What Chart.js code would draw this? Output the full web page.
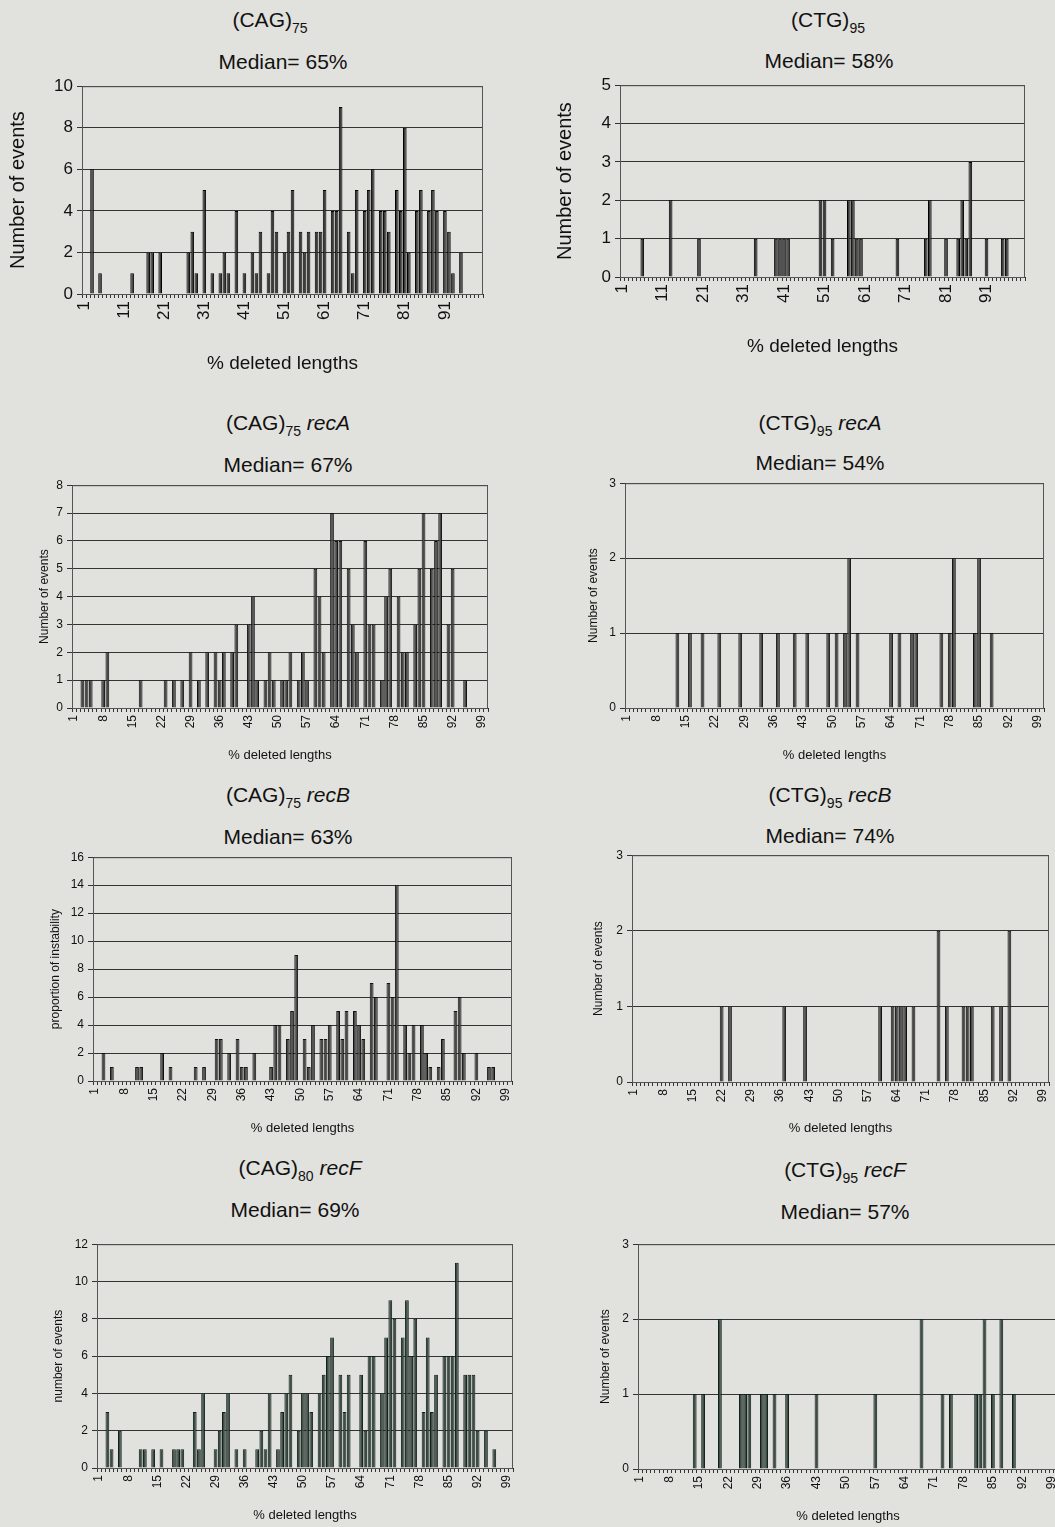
<!DOCTYPE html>
<html>
<head>
<meta charset="utf-8">
<script src="https://cdn.jsdelivr.net/npm/chart.js@4.4.0/dist/chart.umd.min.js"></script>
<style>
body { margin:0; width:1055px; height:1527px; overflow:hidden; background:#e1e1dd; position:relative; font-family:"Liberation Sans", Arial, sans-serif; color:#111; }
.box { position:absolute; }
.ttl { position:absolute; transform:translate(-50%,-50%); font-size:21px; white-space:nowrap; }
.ttl sub { font-size:14px; }
</style>
</head>
<body>
<div class="ttl" style="left:270px;top:22px">(CAG)<sub>75</sub></div>
<div class="ttl" style="left:283px;top:62px">Median= 65%</div>
<div class="ttl" style="left:828px;top:22px">(CTG)<sub>95</sub></div>
<div class="ttl" style="left:829px;top:61px">Median= 58%</div>
<div class="ttl" style="left:288px;top:425px">(CAG)<sub>75</sub> <i>recA</i></div>
<div class="ttl" style="left:288px;top:465px">Median= 67%</div>
<div class="ttl" style="left:820px;top:425px">(CTG)<sub>95</sub> <i>recA</i></div>
<div class="ttl" style="left:820px;top:463px">Median= 54%</div>
<div class="ttl" style="left:288px;top:797px">(CAG)<sub>75</sub> <i>recB</i></div>
<div class="ttl" style="left:288px;top:837px">Median= 63%</div>
<div class="ttl" style="left:830px;top:797px">(CTG)<sub>95</sub> <i>recB</i></div>
<div class="ttl" style="left:830px;top:836px">Median= 74%</div>
<div class="ttl" style="left:300px;top:1170px">(CAG)<sub>80</sub> <i>recF</i></div>
<div class="ttl" style="left:295px;top:1210px">Median= 69%</div>
<div class="ttl" style="left:845px;top:1172px">(CTG)<sub>95</sub> <i>recF</i></div>
<div class="ttl" style="left:845px;top:1212px">Median= 57%</div>

<script>
// % deleted length categories 1..100
const categories = [];
for (let c = 1; c <= 100; c++) categories.push(String(c));

// bins (category) with events, and the number of events at each
const cag75Bins = [3,5,13,17,18,20,27,28,29,31,33,35,36,37,39,41,43,44,45,47,48,49,51,52,53,55,56,57,59,60,61,63,64,65,67,68,69,71,72,73,75,76,77,79,80,81,82,84,85,87,88,89,91,92,93,95];
const cag75Counts = [6,1,1,2,2,2,2,3,1,5,1,1,2,1,4,1,2,1,3,1,4,3,2,3,5,3,2,3,3,3,5,4,4,9,3,1,5,4,5,6,4,4,3,5,4,8,2,4,5,4,5,4,4,3,1,2];

const ctg95Bins = [6,13,20,34,39,40,41,42,50,51,53,57,58,59,60,69,76,77,81,84,85,86,87,91,95,96];
const ctg95Counts = [1,2,1,1,1,1,1,1,2,2,1,2,2,1,1,1,1,2,1,1,2,1,3,1,1,1];

const cag75RecABins = [3,4,5,8,9,17,23,25,27,29,31,33,35,36,37,39,40,43,44,45,47,48,49,51,52,53,55,56,57,59,60,61,63,64,65,67,68,69,71,72,73,75,76,77,79,80,81,83,84,85,87,88,89,91,92,95];
const cag75RecACounts = [1,1,1,1,2,1,1,1,1,2,1,2,2,1,2,2,3,3,4,1,1,2,1,1,1,2,1,2,1,5,4,2,7,6,6,5,3,2,6,3,3,1,4,5,4,2,2,3,5,7,5,6,7,3,5,1];

const ctg95RecABins = [13,16,19,23,28,33,37,41,44,49,51,53,54,56,64,66,69,70,76,78,79,84,85,88];
const ctg95RecACounts = [1,1,1,1,1,1,1,1,1,1,1,1,2,1,1,1,1,1,1,1,2,1,2,1];

const cag75RecBBins = [3,5,11,12,17,19,25,27,30,31,33,35,36,37,39,43,44,45,47,48,49,51,52,53,55,56,57,59,60,61,63,64,65,67,68,71,72,73,75,76,77,79,80,81,83,84,87,88,89,92,95,96];
const cag75RecBCounts = [2,1,1,1,2,1,1,1,3,3,2,3,1,1,2,1,4,4,3,5,9,3,1,4,3,3,4,5,3,5,5,4,3,7,6,7,6,14,4,2,4,4,2,1,1,3,5,6,2,2,1,1];

const ctg95RecBBins = [22,24,37,42,60,63,64,65,66,68,74,76,80,81,82,87,89,91];
const ctg95RecBCounts = [1,1,1,1,1,1,1,1,1,1,2,1,1,1,1,1,1,2];

const cag80RecFBins = [3,4,6,11,12,14,16,19,20,21,24,25,26,29,30,31,32,34,36,39,40,41,42,44,45,46,47,49,50,51,52,54,55,56,57,59,60,61,64,65,66,67,69,70,71,72,74,75,76,77,79,80,81,82,84,85,86,87,89,90,91,92,94,96];
const cag80RecFCounts = [3,1,2,1,1,1,1,1,1,1,3,1,4,1,2,3,4,1,1,1,2,1,4,1,3,4,5,2,4,4,3,4,5,6,7,5,3,5,5,2,6,6,4,7,9,8,7,9,6,8,3,7,3,5,6,6,6,11,5,5,5,2,2,1];

const ctg95RecFBins = [14,16,20,25,26,27,30,31,33,36,43,57,68,73,75,81,82,83,85,87,90];
const ctg95RecFCounts = [1,1,2,1,1,1,1,1,1,1,1,1,2,1,1,1,1,2,1,2,1];

const frame = {
    id: 'frame',
    afterDraw(chart) {
        const a = chart.chartArea, ctx = chart.ctx;
        ctx.save();
        ctx.strokeStyle = '#555';
        ctx.lineWidth = 1;
        ctx.strokeRect(a.left + 0.5, a.top + 0.5, a.right - a.left - 1, a.bottom - a.top);
        ctx.restore();
    }
};

function drawPanel(bins, counts, p) {
    const values = categories.map((_, i) => {
        const k = bins.indexOf(i + 1);
        return k < 0 ? 0 : counts[k];
    });

    const lh = p.yTitleSize * 1.2;
    const divLeft = Math.round(p.yTitleX - lh / 2);
    const divTop = Math.round(p.t - 10);
    const divRight = Math.round(p.r + 12);
    const divBottom = Math.round(p.xTitleY + p.xTitleSize * 0.6);

    const box = document.createElement('div');
    box.className = 'box';
    box.style.left = divLeft + 'px';
    box.style.top = divTop + 'px';
    box.style.width = (divRight - divLeft) + 'px';
    box.style.height = (divBottom - divTop) + 'px';
    const canvas = document.createElement('canvas');
    box.appendChild(canvas);
    document.body.appendChild(box);

    new Chart(canvas.getContext('2d'), {
        type: 'bar',
        data: {
            labels: categories,
            datasets: [{
                data: values,
                backgroundColor: p.fill,
                borderColor: p.edge,
                borderWidth: 1,
                barPercentage: 0.9,
                categoryPercentage: 1
            }]
        },
        options: {
            animation: false,
            responsive: true,
            maintainAspectRatio: false,
            layout: { padding: { top: p.t - divTop, right: divRight - p.r, left: 0, bottom: 0 } },
            plugins: { legend: { display: false }, tooltip: { enabled: false } },
            scales: {
                x: {
                    afterFit: s => {
                        s.height = divBottom - Math.round(p.b);
                        s.paddingLeft = 0;
                        s.paddingRight = 0;
                    },
                    grid: { drawOnChartArea: false, drawTicks: true, tickLength: 4, color: '#333' },
                    border: { color: '#222' },
                    ticks: {
                        autoSkip: false,
                        minRotation: 90,
                        maxRotation: 90,
                        padding: 3,
                        color: '#111',
                        font: { family: 'Liberation Sans', size: p.tickSize },
                        callback: (v, i) => (i % p.every === 0 ? categories[i] : '')
                    },
                    title: {
                        display: true,
                        text: '% deleted lengths',
                        color: '#111',
                        padding: 0,
                        font: { family: 'Liberation Sans', size: p.xTitleSize }
                    }
                },
                y: {
                    min: 0,
                    max: p.yMax,
                    afterFit: s => { s.width = Math.round(p.l) - divLeft; },
                    grid: { color: '#333', tickLength: 5 },
                    border: { color: '#111' },
                    ticks: {
                        stepSize: p.step,
                        padding: 4,
                        color: '#111',
                        font: { family: 'Liberation Sans', size: p.tickSize }
                    },
                    title: {
                        display: true,
                        text: p.yTitle,
                        color: '#111',
                        padding: 0,
                        font: { family: 'Liberation Sans', size: p.yTitleSize }
                    }
                }
            }
        },
        plugins: [frame]
    });
}

const big = { tickSize: 17, yTitleSize: 20, xTitleSize: 19, every: 10 };
const small = { tickSize: 12, yTitleSize: 12, xTitleSize: 13, every: 7 };

drawPanel(cag75Bins, cag75Counts, Object.assign({}, big, {
    l: 82, t: 82, r: 483, b: 294, yMax: 10, step: 2, yTitleX: 18, xTitleY: 364,
    yTitle: 'Number of events', fill: '#3c3c3c', edge: '#000'
}));
drawPanel(ctg95Bins, ctg95Counts, Object.assign({}, big, {
    l: 620, t: 81, r: 1025, b: 277, yMax: 5, step: 1, yTitleX: 565, xTitleY: 347,
    yTitle: 'Number of events', fill: '#3c3c3c', edge: '#000'
}));
drawPanel(cag75RecABins, cag75RecACounts, Object.assign({}, small, {
    l: 72, t: 484, r: 488, b: 708, yMax: 8, step: 1, yTitleX: 44, xTitleY: 755,
    yTitle: 'Number of events', fill: '#484848', edge: '#111'
}));
drawPanel(ctg95RecABins, ctg95RecACounts, Object.assign({}, small, {
    l: 625, t: 482, r: 1044, b: 708, yMax: 3, step: 1, yTitleX: 593, xTitleY: 755,
    yTitle: 'Number of events', fill: '#484848', edge: '#111'
}));
drawPanel(cag75RecBBins, cag75RecBCounts, Object.assign({}, small, {
    l: 93, t: 856, r: 512, b: 1081, yMax: 16, step: 2, yTitleX: 55, xTitleY: 1128,
    yTitle: 'proportion of instability', fill: '#484848', edge: '#111'
}));
drawPanel(ctg95RecBBins, ctg95RecBCounts, Object.assign({}, small, {
    l: 632, t: 854, r: 1049, b: 1082, yMax: 3, step: 1, yTitleX: 598, xTitleY: 1128,
    yTitle: 'Number of events', fill: '#484848', edge: '#111'
}));
drawPanel(cag80RecFBins, cag80RecFCounts, Object.assign({}, small, {
    l: 97, t: 1243, r: 513, b: 1468, yMax: 12, step: 2, yTitleX: 58, xTitleY: 1515,
    yTitle: 'number of events', fill: '#3e4d44', edge: '#10201a'
}));
drawPanel(ctg95RecFBins, ctg95RecFCounts, Object.assign({}, small, {
    l: 638, t: 1243, r: 1058, b: 1469, yMax: 3, step: 1, yTitleX: 605, xTitleY: 1516,
    yTitle: 'Number of events', fill: '#3e4d44', edge: '#10201a'
}));
</script>
</body>
</html>
